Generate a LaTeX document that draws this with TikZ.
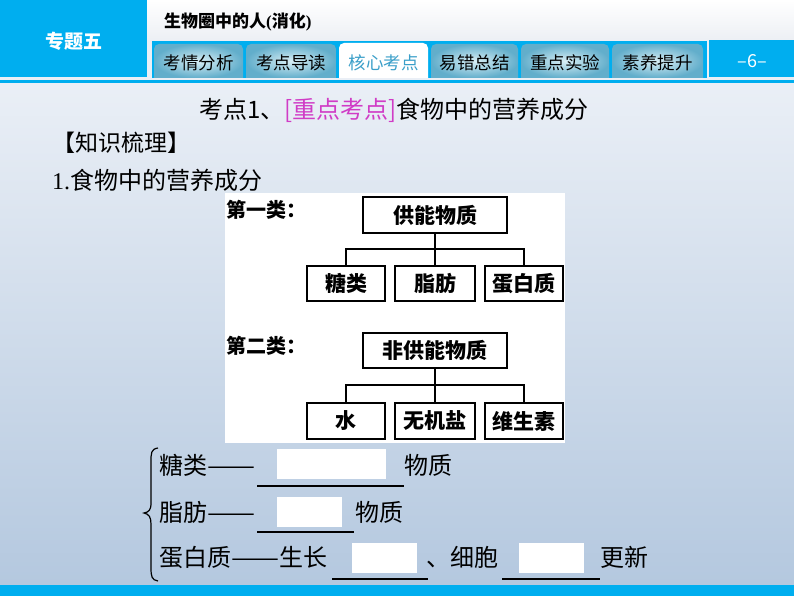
\documentclass[tikz,border=0pt]{standalone}
\usepackage{fontspec}
\setmainfont{Liberation Serif}
\newfontfamily\cjk{Noto Sans CJK SC}
\definecolor{cyanb}{HTML}{00AEEF}
\definecolor{bgtop}{HTML}{EAEFF6}
\definecolor{bgbot}{HTML}{B4C8DF}
\definecolor{hdr}{HTML}{ECEFF4}
\definecolor{tabin}{HTML}{D8EEF5}
\definecolor{tabout}{HTML}{62AECB}
\definecolor{actxt}{HTML}{3A9FC9}
\definecolor{mag}{HTML}{D03CC6}
\newcommand{\longdash}{\resizebox{2em}{\height}{——}}
\begin{document}
\begin{tikzpicture}[x=1pt,y=-1pt,
  txt/.style={inner sep=0pt,anchor=west},
  bx/.style={draw=black,line width=1.6pt,fill=white,inner sep=0pt,font=\cjk\bfseries\fontsize{21}{24}\selectfont},
  lab/.style={txt,font=\cjk\bfseries\fontsize{20}{24}\selectfont},
  conn/.style={line width=1.6pt,black},
  blank/.style={fill=white,draw=none,inner sep=0pt},
  uline/.style={line width=1.2pt,black},
  body/.style={txt,font=\cjk\fontsize{24}{28}\selectfont},
  tabtxt/.style={font=\cjk\fontsize{17.5}{20}\selectfont,inner sep=0pt}
]
\useasboundingbox (0,0) rectangle (794,596);
\fill[bgtop] (0,0) rectangle (794,596);
\shade[top color=white,bottom color=hdr] (147,0) rectangle (794,41);
\shade[top color=bgtop,bottom color=bgbot] (0,83) rectangle (794,585);
% header
\fill[cyanb] (0,0) rectangle (147,77);
\node[font=\cjk\bfseries\fontsize{19}{22}\selectfont,text=white] (zt) at (74,41) {专题五};
\node[txt,font=\cjk\bfseries\fontsize{17}{20}\selectfont] (ht) at (164,22) {生物圈中的人{\rmfamily\bfseries(}消化{\rmfamily\bfseries)}};
\fill[cyanb] (152,41) rectangle (707,78);
\fill[cyanb] (709,40) rectangle (794,77);
\fill[cyanb] (0,80) rectangle (794,83);
\fill[cyanb] (0,585) rectangle (794,596);
% tabs
\foreach \xa/\xb/\t/\n in {154/243/考情分析/ta,246/336/考点导读/tb,431/518/易错总结/td,521/609/重点实验/te,612/703/素养提升/tf}{
  \shade[shading=radial,inner color=tabin,outer color=tabout]
    (\xa,78) [rounded corners=5pt]-- (\xa,44) -- (\xb,44) [sharp corners]-- (\xb,78) -- cycle;
  \node[tabtxt] (\n) at ({(\xa+\xb)/2},63) {\t};
}
\fill[white] (339,78) [rounded corners=5pt]-- (339,43) -- (428,43) [sharp corners]-- (428,78) -- cycle;
\node[tabtxt,text=actxt] (tc) at (383.5,63) {核心考点};
\node[font=\cjk\fontsize{18}{20}\selectfont,text=white] (pg) at (752,61) {–6–};
% titles
\node[txt,font=\cjk\fontsize{24}{28}\selectfont] (title) at (199,110) {考点1、\textcolor{mag}{[重点考点]}食物中的营养成分};
\node[txt,font=\cjk\fontsize{23}{26}\selectfont] (zs) at (52,143) {【知识梳理】};
\node[body] (l1) at (52,180) {{\rmfamily 1.}食物中的营养成分};
% diagram
\fill[white] (225,193) rectangle (565,443);
\node[lab] (k1) at (226,210) {第一类：};
\node[bx,minimum width=144pt,minimum height=36pt] (t1) at (435,215) {供能物质};
\node[bx,minimum width=78pt,minimum height=35pt] (a1) at (346,283.5) {糖类};
\node[bx,minimum width=80pt,minimum height=35pt] (a2) at (435,283.5) {脂肪};
\node[bx,minimum width=78pt,minimum height=35pt] (a3) at (524,283.5) {蛋白质};
\draw[conn] (t1.south) -- (a2.north);
\draw[conn] (a1.north) -- ++(0,-16) -| (a3.north);
\node[lab] (k2) at (226,346) {第二类：};
\node[bx,minimum width=144pt,minimum height=35pt] (t2) at (435,350.5) {非供能物质};
\node[bx,minimum width=78pt,minimum height=36pt] (b1) at (346,421) {水};
\node[bx,minimum width=80pt,minimum height=36pt] (b2) at (435,421) {无机盐};
\node[bx,minimum width=78pt,minimum height=36pt] (b3) at (524,421) {维生素};
\draw[conn] (t2.south) -- (b2.north);
\draw[conn] (b1.north) -- ++(0,-17) -| (b3.north);
% bottom section
\draw[line width=1.2pt] (158,448) .. controls (151,449) and (151,453) .. (151,462) -- (151,503) .. controls (151,510) and (149,512) .. (144,513) .. controls (149,514) and (151,517) .. (151,524) -- (151,568) .. controls (151,577) and (152,580) .. (158,581);
\node[body] (r1a) at (159,465) {糖类\longdash};
\node[blank,minimum width=109pt,minimum height=30pt] (w1) at (331.5,464) {};
\draw[uline] (257,486) -- (404,486);
\node[body] (r1b) at (404,465) {物质};
\node[body] (r2a) at (159,512) {脂肪\longdash};
\node[blank,minimum width=65pt,minimum height=30pt] (w2) at (309.5,512) {};
\draw[uline] (257,532) -- (354,532);
\node[body] (r2b) at (355,512) {物质};
\node[body] (r3a) at (159,557) {蛋白质\longdash 生长};
\node[blank,minimum width=65pt,minimum height=30pt] (w3) at (384.5,558) {};
\draw[uline] (332,579) -- (428,579);
\node[body] (r3b) at (426,557) {、细胞};
\node[blank,minimum width=65pt,minimum height=30pt] (w4) at (551.5,558) {};
\draw[uline] (502,579) -- (600,579);
\node[body] (r3c) at (600,557) {更新};
\end{tikzpicture}
\end{document}
